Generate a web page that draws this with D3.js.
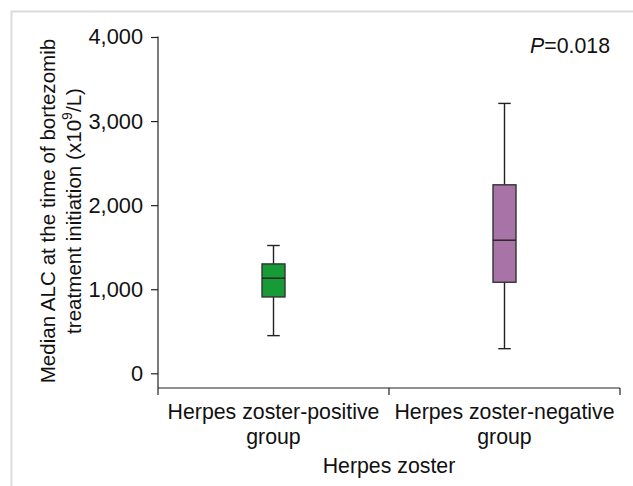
<!DOCTYPE html>
<html>
<head>
<meta charset="utf-8">
<script src="https://cdn.jsdelivr.net/npm/d3@7"></script>
<style>
  html, body { margin: 0; padding: 0; background: #fff; }
  svg { display: block; }
  text { font-family: "Liberation Sans", Arial, sans-serif; fill: #111; }
</style>
</head>
<body>
<svg id="chart" width="633" height="486"></svg>
<script>
// Data
const categories = ["Herpes zoster-positive group", "Herpes zoster-negative group"];
const categoryLines = [["Herpes zoster-positive", "group"], ["Herpes zoster-negative", "group"]];
const whiskerLow = [448, 293];
const q1 = [908, 1083];
const median = [1131, 1583];
const q3 = [1301, 2242];
const whiskerHigh = [1520, 3210];
const boxColors = ["#179b37", "#a874a8"];
const yTicks = [0, 1000, 2000, 3000, 4000];
const pText = "0.018";

const svg = d3.select("#chart");
const FS = 21.3;
const FS_TICK = 21.8;
const FS_TITLE = 20.6;

// frame
svg.append("path")
  .attr("d", "M11.5,486 V11.5 H633")
  .attr("fill", "none").attr("stroke", "#dcdcdc").attr("stroke-width", 2);

const y = d3.scaleLinear().domain([0, 4000]).range([373.3, 37]);
const x = d3.scaleBand().domain(categories).range([158, 620]).paddingInner(0).paddingOuter(0);
const axisColor = "#222";
const xAxisY = 388;

// y axis
const gy = svg.append("g").attr("transform", "translate(158,0)");
gy.call(d3.axisLeft(y).tickValues(yTicks).tickFormat(d3.format(",")).tickSize(7).tickSizeOuter(0).tickPadding(8));
gy.select(".domain").remove();
gy.selectAll(".tick line").attr("stroke", axisColor).attr("stroke-width", 1.2);
gy.selectAll(".tick text").attr("font-size", FS_TICK).attr("font-family", "Liberation Sans, Arial, sans-serif").attr("fill", "#111");
gy.append("line").attr("x1", 0).attr("x2", 0).attr("y1", y(4000) - 0.6).attr("y2", xAxisY)
  .attr("stroke", axisColor).attr("stroke-width", 1.2);

// x axis
const gx = svg.append("g");
gx.append("line").attr("x1", 158).attr("x2", 620).attr("y1", xAxisY).attr("y2", xAxisY)
  .attr("stroke", axisColor).attr("stroke-width", 1.2);
const boundaries = [x(categories[0]), x(categories[1]), x(categories[1]) + x.bandwidth()];
gx.selectAll("line.tk").data(boundaries).enter().append("line")
  .attr("class", "tk")
  .attr("x1", d => d).attr("x2", d => d)
  .attr("y1", xAxisY).attr("y2", xAxisY + 7)
  .attr("stroke", axisColor).attr("stroke-width", 1.2);

categories.forEach((c, i) => {
  const cx = x(c) + x.bandwidth() / 2;
  const t = svg.append("text").attr("x", cx).attr("y", 419).attr("text-anchor", "middle").attr("font-size", FS);
  categoryLines[i].forEach((ln, j) => {
    t.append("tspan").attr("x", cx).attr("dy", j === 0 ? 0 : 24.5).text(ln);
  });
});

svg.append("text").attr("x", 389).attr("y", 472.5).attr("text-anchor", "middle").attr("font-size", FS).text("Herpes zoster");

// y title
const yt = svg.append("text").attr("transform", "translate(0,211) rotate(-90)").attr("text-anchor", "middle").attr("font-size", FS_TITLE);
yt.append("tspan").attr("x", 0).attr("y", 54.5).text("Median ALC at the time of bortezomib");
const l2 = yt.append("tspan").attr("x", 0).attr("y", 81);
l2.text("treatment initiation (x10");
yt.append("tspan").attr("dy", -9).attr("font-size", 14).text("9");
yt.append("tspan").attr("dy", 9).text("/L)");

// boxes
const boxW = 23, capW = 12.5;
categories.forEach((c, i) => {
  const cx = x(c) + x.bandwidth() / 2;
  const g = svg.append("g");
  g.append("line").attr("x1", cx).attr("x2", cx).attr("y1", y(whiskerHigh[i])).attr("y2", y(q3[i]))
    .attr("stroke", "#222").attr("stroke-width", 1.4);
  g.append("line").attr("x1", cx).attr("x2", cx).attr("y1", y(q1[i])).attr("y2", y(whiskerLow[i]))
    .attr("stroke", "#222").attr("stroke-width", 1.4);
  [whiskerHigh[i], whiskerLow[i]].forEach(v => {
    g.append("line").attr("x1", cx - capW / 2).attr("x2", cx + capW / 2).attr("y1", y(v)).attr("y2", y(v))
      .attr("stroke", "#222").attr("stroke-width", 1.4);
  });
  g.append("rect").attr("x", cx - boxW / 2).attr("width", boxW)
    .attr("y", y(q3[i])).attr("height", y(q1[i]) - y(q3[i]))
    .attr("fill", boxColors[i]).attr("stroke", "#333").attr("stroke-width", 1.4);
  g.append("line").attr("x1", cx - boxW / 2).attr("x2", cx + boxW / 2).attr("y1", y(median[i])).attr("y2", y(median[i]))
    .attr("stroke", "#222").attr("stroke-width", 1.4);
});

// P value
const pt = svg.append("text").attr("x", 610).attr("y", 52.5).attr("text-anchor", "end").attr("font-size", FS);
pt.append("tspan").attr("font-style", "italic").text("P");
pt.append("tspan").text("=" + pText);
</script>
</body>
</html>
